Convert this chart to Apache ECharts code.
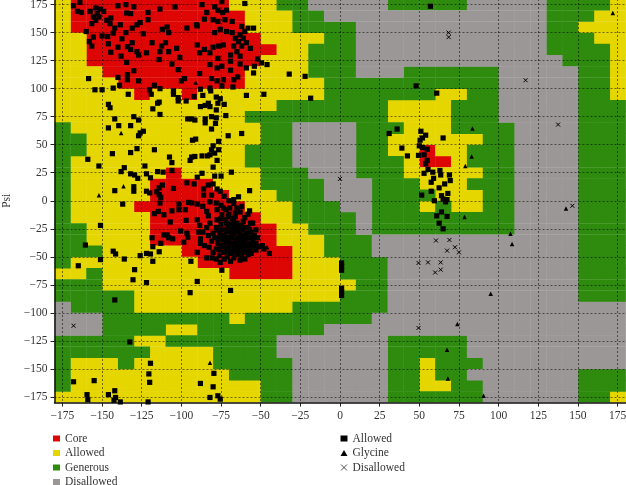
<!DOCTYPE html>
<html><head><meta charset="utf-8"><style>html,body{margin:0;padding:0;background:#fff}#c{width:626px;height:485px}</style>
<script src="https://cdn.jsdelivr.net/npm/echarts@6/dist/echarts.min.js"></script></head><body><div id="c"></div>
<script>
const tickValues=[-175,-150,-125,-100,-75,-50,-25,0,25,50,75,100,125,150,175];
// region map: one run-length row per 10 degree psi band, top (psi 180) to bottom, 36 phi cells each
const regionRows=[
'Y1 R10 Y3 G2 D5 G5 D5 G4 Y1','Y1 R11 Y3 G2 D14 G3 Y2','Y1 R11 Y3 G4 D12 G2 Y3','Y2 R11 Y4 G2 D12 G3 Y2',
'Y2 R12 Y2 G3 D12 G4 Y1','Y2 R11 Y3 G3 D13 G3 Y1','Y3 R9 Y4 G3 D3 G6 D5 G2 Y1','Y4 R8 Y5 G11 D5 G2 Y1',
'Y5 R1 Y2 R1 Y8 G7 Y2 G2 D5 G2 Y1','Y14 G7 Y4 G3 D5 G3','Y12 G9 Y4 G3 D5 G3','G1 Y12 G2 D4 G3 Y3 G4 D4 G3',
'G2 Y11 G2 D4 G2 Y6 G2 D4 G3','G2 Y10 G3 D4 G2 Y2 R1 Y2 G3 D4 G3','G1 Y11 G3 D4 G3 Y1 R2 Y1 G3 D4 G3','G1 Y6 R1 Y5 G3 D3 G3 Y5 G2 D4 G3',
'G1 Y5 R4 Y3 G4 D3 G3 Y3 G3 D4 G3','G1 Y5 R5 Y3 G3 D3 G4 Y3 G2 D4 G3','G1 Y4 R7 Y3 G3 D2 G3 Y1 G1 Y2 G2 D4 G3','G1 Y5 R7 Y2 G4 D1 G9 D4 G3',
'G2 Y4 R8 Y2 G3 D1 G9 D4 G3','G2 Y4 R8 Y3 G3 D13 G3','G3 Y5 R7 Y2 G3 D13 G3','G1 Y8 R6 Y3 G3 D12 G3',
'Y2 G1 Y8 R4 Y3 G3 D12 G3','G3 Y16 G2 D12 G3','G5 Y13 G3 D12 G3','D1 G4 Y10 G6 D15',
'D3 G8 Y1 G8 D16','D3 G4 Y2 G8 D19','G5 Y2 G7 D7 G5 D10','G6 Y4 G4 D7 G5 D10',
'G1 Y3 G1 Y5 G5 D6 G2 Y1 G3 D9','G1 Y10 G4 D6 G2 Y1 G2 D7 G3','G1 Y12 G2 D6 G2 Y2 G2 D6 G3','Y13 G2 D6 G6 D6 G2 Y1'];
const allowedPoints=[
[-168,174],[-164,177],[-165.5,169],[-163,168],[-157.5,169],[-160,151],[-154,172],[-151,171],[-149,169],[-153,167],[-155.5,164],[-152,164],[-154,161],[-156.5,158],[-147,161],[-144.5,163],[-140,174],[-135,175],[-130,173],[-134.5,167.5],[-132,167],[-121,168],[-121,161.5],[-113.5,171],[-104,173],[-87,175],[-84,168],[-74.5,178],[-79,173],[-77,170],[-74,168],[-71.5,170],[-60,176],
[-145,158],[-142,154],[-138.5,157],[-143,149.5],[-146.5,146.5],[-150,147],[-155.5,146],[-158,142],[-156.5,138],[-144.5,132.5],[-146,140],[-140,137],[-135,150],[-131,154],[-128,157],[-126,159],[-124,149],[-137.5,144.5],[-134,137.5],[-131,141],[-132,135],[-128,133],[-127,130],[-122,132],[-118.5,141],[-138,129],[-134.5,123.5],[-112,153],[-109,155],[-108,150],[-96.5,154],[-90.5,157],[-90,156],[-113.5,133],[-112.5,138],[-110,141],[-108,133],[-103,136],[-101,128],[-114,126],[-106,122],[-102,117],[-90,139],[-85.5,135],[-88.5,132],[-82,132],[-80,137],[-76.5,138],[-73.5,139],[-79,150],[-75.5,153],[-71.5,151],[-68,150],[-85.5,162],[-80,161.5],[-77,160],[-72.5,161.5],[-68,160],[-62,155.5],[-58,154],[-54.5,154],[-60,151],[-63,148],[-66,145],[-61,145],[-64,142],[-59,141],[-56.5,136],[-62,138],[-67,138],[-65,133],[-69,130],[-63,129],[-69,124.5],[-77,127],[-82,121.5],[-77.5,118.5],[-74.5,120],[-69,116.5],[-63,122],[-59,118.5],[-54,120],[-52,126.5],[-49.5,123],[-46,121.5],[-54.5,114],[-32,113],[-22,111],[-18.5,91.5],[-59,94],[-48,95],
[-158.5,109],[-140,110],[-134,112.5],[-130,116],[-134,108],[-127,107],[-139,103],[-154.5,99],[-150,99],[-143,100.5],[-133.5,95],[-117,103],[-120,99],[-113.5,100],[-119,95],[-105,95],[-105,98],[-102,92],[-102,89],[-97,89],[-100,107],[-98,109],[-88.5,113.5],[-81,109],[-77.5,107],[-73.5,108],[-74.5,102.5],[-67,108],[-64.5,110.5],[-67.5,101.5],[-82,100.5],[-88,99.5],[-81.5,98],[-92,93],[-86.5,94],[-78,92.5],[-75.5,91],[-77,87],[-73,86],[-83,87],[-85,85],[-88,84],[-82,84],[-78,81],[-72,76],[-81,75],[-78,74],[-146,86],[-145,83],[-118,82],[-114,88],[-115,87],[-113.5,77],[-130,75],[-127,72],[-142,73],[-139.5,67],[-132,67],[-146,65],[-96,73],[-93.5,73],[-91.5,72],[-85,73],[-85,69.5],[-78.5,69],[-81,64],[-70.5,58],[-62,60],[-124,62],[-126,60.5],[-127,58],[-91,55],[-93,54],[-76.5,53],[-80,49],[-81,45.5],[-76.5,45.5],[-79,42.5],[-82,41],[-83.5,40],[-87,40],[-93.5,39],[-91.5,39.5],[-94.5,36],[-128,46.5],[-117,45.5],[-143.5,42],[-132,43],[-107.5,39],[-106,34],[-159,37],[-152,31],[-136,29.5],[-138,26],[-123,31],[-77.5,36],[-80,30],[-68.5,25.5],[-115,26],[-111.5,25.5],[-106,27],[-122,24],[-132,24],[-129.5,23],[-127.5,20],[-119.5,20.5],[-87,24.5],[-90,21],[-79,22],[-75,22],
[-130,12.5],[-130,8.5],[-142,9],[-96.5,16],[-92,15],[-112,14],[-114,11.5],[-105,11],[-122,8.5],[-120,7],[-115.5,8],[-114,5.5],[-113,3],[-86,10.5],[-83,14],[-80,15],[-77.5,10.5],[-75.5,8.5],[-86,5],[-81,5],[-73,4],[-64,3.5],[-67,1],[-57,9],[-137,-3],
[57,173.5],[48,102.5],[61,96],[36,64],[31,60],[51,62],[54,58.5],[52,56],[50.5,54],[65,56],[39,47],[50,49],[52,47.5],[55,46],[42.5,40],[49.5,40.5],[53,41],[55,36],[54,33],[55.5,28],[53,24.5],[58.5,25.5],[63,27],[63.5,23],[69,23],[59,20],[69.5,18],[57.5,16.5],[66,15],[62.5,11.5],[68,6.5],[57.5,8.5],[51.5,5],[64,4.5],[65,1.5],[59.5,0],[67.5,1],[66.5,-1],[64,-10],[61,-13.5],[67.5,-14],[62.5,-20],[65,-25],[1,-55.5],[1,-58.5],[1,-62],[1,-78],[1,-81],[1,-84.5],
[-151,-22],[-160.5,-39.5],[-143,-45],[-141.5,-47.5],[-151,-52.5],[-136,-52],[-165,-58],[-129.5,-61.5],[-130.5,-70.5],[-126,-49],[-122,-47],[-119.5,-47.5],[-118,-54],[-114,-45.5],[-113,-38],[-118,-41],[-118.5,-33],[-122,-73],[-142,-88.5],[-132.5,-126],[-94,-54],[-90,-46],[-90,-72],[-94.5,-82],[-74.5,-62],[-75.5,-55],[-69,-80],[-44.5,-47],[-168,-161.5],[-155,-160.5],[-159.5,-173],[-159,-177.5],[-146,-173],[-142,-169.5],[-141.5,-175.5],[-142.5,-178],[-138.5,-179.5],[-121,-179.5],[-119.5,-145],[-120.5,-154.5],[-120,-162],[-88,-163],[-79.5,-154],[-80,-166],[-82,-175.5],[-77,-174],[-75.5,-177],
[-113.5,-2],[-101.5,-3],[-106,-9],[-101.5,-8],[-97.5,-8],[-117,-11.5],[-114.5,-9.5],[-111,-12.5],[-107,-19],[-97,-17.5],[-90,-17],[-88.5,-22],[-82,-20],[-100.5,-27],[-96.5,-29],[-96,-32.5],[-89,-28],[-86.5,-28],[-111,-30.5],[-109,-30.5],[-108,-33],[-105.5,-34],[-98.5,-37],[-88,-34],[-88,-38],[-85.5,-40],[-82.5,-41.5],[-84,-51],[-80.5,-51],
[-95.5,-1.5],[-93.5,-2],[-90,-3],[-86.5,-5],[-84,-9.5],[-83,-13.5],[-77.5,-8],[-73.5,-6.5],[-69.5,-6.5],[-67,-2.5],[-65,-6.5],[-66,-11],[-74.5,-12.5],[-70.5,-14],[-77.5,-17],[-71.5,-20],[-67,-18.5],[-61,-18.5],[-56.5,-20],[-57,-9],
[-78,-24],[-76,-29],[-79,-33],[-77,-38],[-75,-21],[-74,-26],[-73,-31],[-75,-35],[-74,-41],[-76,-44],[-72,-17],[-71,-23],[-70,-28],[-71,-33],[-72,-37],[-70,-42],[-73,-46],[-71,-50],[-68,-16],[-69,-21],[-67,-25],[-68,-30],[-66,-34],[-69,-38],[-67,-42],[-68,-46],[-67,-51],[-65,-20],[-64,-24],[-65,-28],[-63,-31],[-64,-36],[-65,-40],[-63,-44],[-65,-48],[-62,-22],[-61,-26],[-62,-33],[-60,-37],[-61,-41],[-60,-46],[-62,-50],[-60,-52],[-59,-29],[-58,-24],[-57,-33],[-58,-39],[-57,-43],[-58,-48],[-56,-28],[-55,-36],[-55,-41],[-56,-47],[-54,-31],[-53,-38],[-53,-44],[-51,-41],[-49,-40],[-48,-43],[-80,-29],[-81,-36],[-78,-43],[-80,-46],[-76,-49],[-78,-52],[-73,-52],[-69,-54],[-63,-53],[-70,-12],[-75,-16],[-60,-15],[-66,-14],[-55,-20],[-53,-26],[-52,-33],[-84,-24],[-83,-31],[-58,-12],[-63,-10],[-72,-8],[-62,-5],[-75,-4],[-78,-2],[-82,-1],[-70,0],
[-77,-26],[-75,-31],[-77,-34],[-75,-40],[-72,-27],[-73,-35],[-72,-42],[-70,-25],[-69,-33],[-70,-37],[-69,-47],[-66,-23],[-67,-29],[-66,-38],[-66,-44],[-63,-27],[-64,-33],[-63,-40],[-62,-37],[-60,-24],[-60,-31],[-59,-34],[-60,-42],[-58,-44],[-56,-38],[-57,-26],[-55,-32],[-54,-42],[-63,-47],[-71,-45]];
const glycinePoints=[[-138,60.5],[-136.5,13],[-152,5],[-91,105.5],[172,167.5],[83.5,64.5],[83,39.5],[79,31],[142.5,-7],[78.5,-14.5],[107.5,-29.5],[108.5,-38.5],[95,-83],[74,-110],[67.5,-133],[68,-158.5],[90.5,-174],[-46,-41.5],[-82,-144.5]];
const disallowedPoints=[[68.5,150],[68.5,146],[0,19.5],[117,107.5],[137.5,68],[146.5,-4.5],[60.5,-35.5],[69,-35],[72.5,-41.5],[67.5,-44.5],[75,-46],[49.5,-55.5],[55.5,-55],[63.5,-55],[63.5,-61.5],[60,-64],[49.5,-113.5],[-168,-111.5]];
const regionNames={R:'Core',Y:'Allowed',G:'Generous',D:'Disallowed'};
const regionColors={R:'#DE0505',Y:'#E6D600',G:'#2E8B0E',D:'#9B9797'};
const crossIcon='path://M0 0L10 10M10 0L0 10';

const cells={R:[],Y:[],G:[],D:[]};
regionRows.forEach((row,r)=>{let col=0;row.split(' ').forEach(run=>{const k=run[0],n=+run.slice(1);
  for(let i=0;i<n;i++,col++)cells[k].push([-180+col*10,180-r*10]);});});
const regionSeries=Object.keys(cells).map(k=>({
  name:regionNames[k],type:'custom',silent:true,z:1,clip:true,data:cells[k],
  itemStyle:{color:regionColors[k]},
  encode:{x:0,y:1},
  renderItem:(p,api)=>{const a=api.coord([api.value(0),api.value(1)]),b=api.coord([api.value(0)+10,api.value(1)-10]);
    return {type:'rect',shape:{x:a[0],y:a[1],width:b[0]-a[0]+0.4,height:b[1]-a[1]+0.4},style:{fill:regionColors[k]}};}
}));
const fmt=v=>String(v).replace('-','\u2212');
const axisCommon={type:'value',min:-180,max:180,z:5,
  axisLine:{onZero:false,lineStyle:{color:'#111',width:1.5}},
  axisTick:{customValues:tickValues,length:4,lineStyle:{color:'#222',width:1}},
  axisLabel:{customValues:tickValues,formatter:fmt,color:'#333',fontFamily:'Liberation Serif',fontSize:11.5,margin:7},
  splitLine:{show:true,customValues:tickValues,lineStyle:{color:'rgba(0,0,0,0.52)',width:1,type:[2,2]}}};
const legendText={color:'#333',fontFamily:'Liberation Serif',fontSize:11.5};
const option={animation:false,backgroundColor:'#fff',
  grid:{left:54.5,right:0.5,top:-1,bottom:82.5,containLabel:false,outerBoundsMode:'none'},
  xAxis:{...axisCommon},
  yAxis:{...axisCommon,name:'Psi',nameLocation:'middle',nameGap:41,nameRotate:90,nameTextStyle:{color:'#333',fontFamily:'Liberation Serif',fontSize:11.5}},
  legend:[
   {left:53,top:432.5,height:70,orient:'vertical',padding:0,itemGap:2.5,itemWidth:7,itemHeight:6,selectedMode:false,textStyle:legendText,
    data:Object.keys(regionNames).map(k=>({name:regionNames[k],icon:'rect',itemStyle:{color:regionColors[k]}}))},
   {left:338.5,top:432.5,height:70,orient:'vertical',padding:0,itemGap:2.5,itemWidth:7,itemHeight:6,selectedMode:false,textStyle:legendText,formatter:n=>n.trim(),
    data:[{name:'Allowed ',icon:'rect'},{name:'Glycine',icon:'triangle'},{name:'Disallowed ',icon:crossIcon,itemStyle:{color:'none',borderColor:'#222',borderWidth:0.8}}]}
  ],
  series:[...regionSeries,
   {name:'Allowed ',type:'scatter',z:10,symbol:'rect',symbolSize:5.2,data:allowedPoints,itemStyle:{color:'#000',opacity:1},clip:false},
   {name:'Glycine',type:'scatter',z:11,symbol:'triangle',symbolSize:4.5,data:glycinePoints,itemStyle:{color:'#000',opacity:1}},
   {name:'Disallowed ',type:'scatter',z:12,symbol:crossIcon,symbolSize:4,data:disallowedPoints,itemStyle:{color:'none',borderColor:'#000',borderWidth:1,opacity:1}}
  ]};
const chart=echarts.init(document.getElementById('c'),null,{renderer:'canvas'});
chart.setOption(option);
</script></body></html>
